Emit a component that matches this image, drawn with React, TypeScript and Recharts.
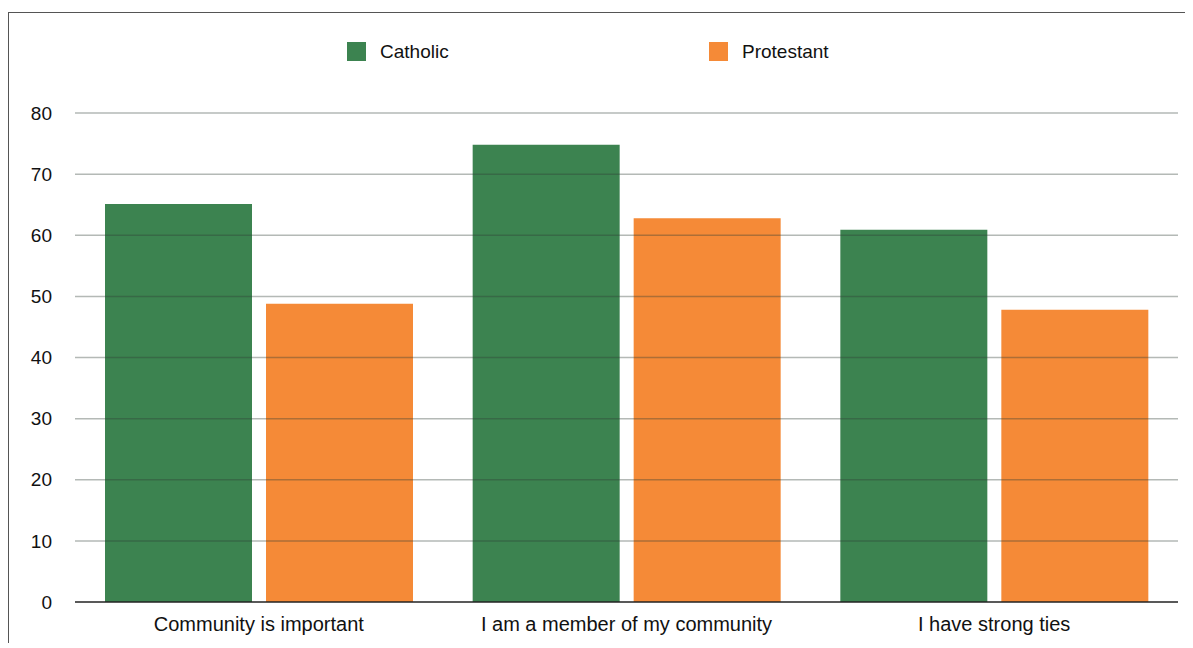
import React from 'react';
import { BarChart, Bar, XAxis, YAxis, ReferenceLine, Legend } from 'recharts';

const categories = ['Community is important', 'I am a member of my community', 'I have strong ties'];
const catholic = [65.1, 74.8, 60.9];
const protestant = [48.8, 62.8, 47.8];
const yTicks = [0, 10, 20, 30, 40, 50, 60, 70, 80];

const GREEN = '#3c8350';
const ORANGE = '#f58a37';
const FONT = '"Liberation Sans", Arial, Helvetica, sans-serif';

const chartData = categories.map((name, i) => ({
  name,
  catholic: catholic[i],
  protestant: protestant[i],
}));

const legendItems = [
  { label: 'Catholic', color: GREEN, left: 338 },
  { label: 'Protestant', color: ORANGE, left: 700 },
];

const CustomLegend = () => (
  <div style={{ position: 'relative', width: 1184, height: 100 }}>
    {legendItems.map((item) => (
      <div
        key={item.label}
        style={{ position: 'absolute', left: item.left, top: 29, display: 'flex', alignItems: 'center' }}
      >
        <div style={{ width: 19, height: 19, background: item.color }} />
        <span style={{ marginLeft: 14, fontSize: 19, color: '#111', fontFamily: FONT, lineHeight: '19px' }}>
          {item.label}
        </span>
      </div>
    ))}
  </div>
);

const App: React.FC = () => {
  return (
    <div style={{ paddingTop: 4 }}>
      <div
        style={{
          width: 1184,
          height: 630,
          borderTop: '1px solid #555',
          borderLeft: '1px solid #555',
          background: '#fff',
        }}
      >
        <BarChart
          width={1184}
          height={630}
          data={chartData}
          margin={{ top: 0, right: 15, left: 6, bottom: 0 }}
          barSize={147}
          barGap={14}
          style={{ fontFamily: FONT }}
        >
          <Legend
            verticalAlign="top"
            content={<CustomLegend />}
            wrapperStyle={{ left: 0, top: 0, width: 1184 }}
          />
          <XAxis
            dataKey="name"
            tickLine={false}
            tickSize={0}
            tickMargin={15}
            axisLine={{ stroke: '#222', strokeWidth: 1.5 }}
            tick={{ fontSize: 20, fill: '#111' }}
            height={41}
          />
          <YAxis
            domain={[0, 80]}
            ticks={yTicks}
            width={60}
            axisLine={false}
            tickLine={false}
            tickSize={0}
            tickMargin={23}
            tick={{ fontSize: 19, fill: '#111' }}
          />
          <Bar dataKey="catholic" name="Catholic" fill={GREEN} isAnimationActive={false} />
          <Bar dataKey="protestant" name="Protestant" fill={ORANGE} isAnimationActive={false} />
          {yTicks.slice(1).map((v) => (
            <ReferenceLine
              key={v}
              y={v}
              stroke="#2e3d36"
              strokeOpacity={0.36}
              strokeWidth={1.5}
            />
          ))}
        </BarChart>
      </div>
    </div>
  );
};

export default App;
